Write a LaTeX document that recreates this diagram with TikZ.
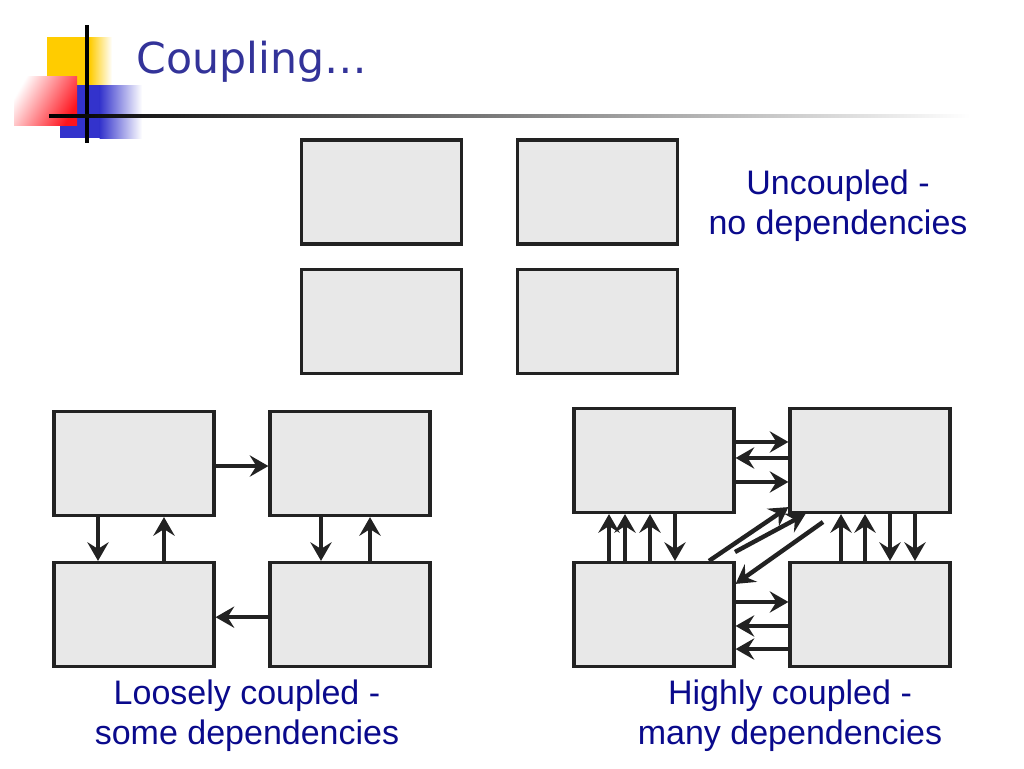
\documentclass[tikz,border=0pt]{standalone}
\usepackage{fontspec}
\setmainfont{Liberation Sans}
\newfontfamily\titlefont{DejaVu Sans}
\usetikzlibrary{arrows.meta}
\definecolor{titleblue}{RGB}{51,51,153}
\definecolor{labelblue}{RGB}{10,10,140}
\definecolor{boxfill}{RGB}{232,232,232}
\definecolor{boxline}{RGB}{34,34,34}
\definecolor{logoyellow}{RGB}{255,204,0}
\definecolor{logoblue}{RGB}{51,51,204}
\definecolor{logored}{RGB}{255,20,30}
\tikzset{
  blk/.style={draw=boxline, fill=boxfill, line width=2.4pt, minimum width=120pt, minimum height=78pt, inner sep=0pt},
  arr/.style={draw=boxline, line width=3.3pt, -{Stealth[length=14pt, width=16pt, inset=5pt]}},
  lbl/.style={text=labelblue, font=\fontsize{25.5pt}{30pt}\selectfont, align=center, inner sep=0pt},
}
\begin{document}
\begin{tikzpicture}[x=0.75pt, y=-0.75pt]
\useasboundingbox (0,0) rectangle (1024,768);
% logo
\fill[logoyellow] (47,37) rectangle (90,85);
\shade[left color=logoyellow, right color=white] (89.5,37) rectangle (112,85);
\fill[logoblue] (60,85) rectangle (100,138);
\shade[left color=logoblue, right color=white] (99.5,85) rectangle (142,138);
\shade[left color=white, right color=logored, shading angle=60] (14,76) rectangle (77,125);
\draw[line width=2.5pt, black] (87,25) -- (87,143);
\shade[left color=black, middle color=black!45, right color=white] (49,114.5) rectangle (970,117.5);
% title
\node[anchor=west, text=titleblue, font=\titlefont\fontsize{32pt}{38pt}\selectfont, inner sep=0pt] (title) at (136,62) {Coupling…};
% uncoupled
\node[blk] (uTL) at (381.5,192) {};
\node[blk] (uTR) at (597.5,192) {};
\node[blk] (uBL) at (381.5,321.5) {};
\node[blk] (uBR) at (597.5,321.5) {};
\node[lbl] (uLab) at (838,206) {Uncoupled -\\no dependencies};
% loosely coupled
\node[blk] (lTL) at (134,463.5) {};
\node[blk] (lTR) at (350,463.5) {};
\node[blk] (lBL) at (134,614.5) {};
\node[blk] (lBR) at (350,614.5) {};
\draw[arr] ([yshift=-1.9pt]lTL.east) -- ([yshift=-1.9pt]lTR.west);
\draw[arr] ([yshift=-2pt]lBR.west) -- ([yshift=-2pt]lBL.east);
\draw[arr] ([xshift=-27pt]lTL.south) -- ([xshift=-27pt]lBL.north);
\draw[arr] ([xshift=22.5pt]lBL.north) -- ([xshift=22.5pt]lTL.south);
\draw[arr] ([xshift=-21.75pt]lTR.south) -- ([xshift=-21.75pt]lBR.north);
\draw[arr] ([xshift=15pt]lBR.north) -- ([xshift=15pt]lTR.south);
\node[lbl] (lLab) at (247,716) {Loosely coupled -\\some dependencies};
% highly coupled
\node[blk] (hTL) at (654,460.5) {};
\node[blk] (hTR) at (870,460.5) {};
\node[blk] (hBL) at (654,614.5) {};
\node[blk] (hBR) at (870,614.5) {};
\draw[arr] ([yshift=13.9pt]hTL.east) -- ([yshift=13.9pt]hTR.west);
\draw[arr] ([yshift=1.9pt]hTR.west) -- ([yshift=1.9pt]hTL.east);
\draw[arr] ([yshift=-16.1pt]hTL.east) -- ([yshift=-16.1pt]hTR.west);
\draw[arr] ([yshift=9.4pt]hBL.east) -- ([yshift=9.4pt]hBR.west);
\draw[arr] ([yshift=-8.6pt]hBR.west) -- ([yshift=-8.6pt]hBL.east);
\draw[arr] ([yshift=-25.9pt]hBR.west) -- ([yshift=-25.9pt]hBL.east);
\draw[arr] ([xshift=-33.75pt]hBL.north) -- ([xshift=-33.75pt]hTL.south);
\draw[arr] ([xshift=-21.75pt]hBL.north) -- ([xshift=-21.75pt]hTL.south);
\draw[arr] ([xshift=-3pt]hBL.north) -- ([xshift=-3pt]hTL.south);
\draw[arr] ([xshift=15.75pt]hTL.south) -- ([xshift=15.75pt]hBL.north);
\draw[arr] ([xshift=-21.75pt]hBR.north) -- ([xshift=-21.75pt]hTR.south);
\draw[arr] ([xshift=-3.75pt]hBR.north) -- ([xshift=-3.75pt]hTR.south);
\draw[arr] ([xshift=15pt]hTR.south) -- ([xshift=15pt]hBR.north);
\draw[arr] ([xshift=33.75pt]hTR.south) -- ([xshift=33.75pt]hBR.north);
\coordinate (d2s) at (735,552);
\coordinate (d3s) at (823,522);
\draw[arr] ([xshift=41.25pt]hBL.north) -- ([yshift=5.25pt]hTR.south west);
\draw[arr] (d2s) -- ([xshift=12.75pt]hTR.south west);
\draw[arr] (d3s) -- ([yshift=-17.25pt]hBL.north east);
\node[lbl] (hLab) at (790,716) {Highly coupled -\\many dependencies};
\end{tikzpicture}
\end{document}
